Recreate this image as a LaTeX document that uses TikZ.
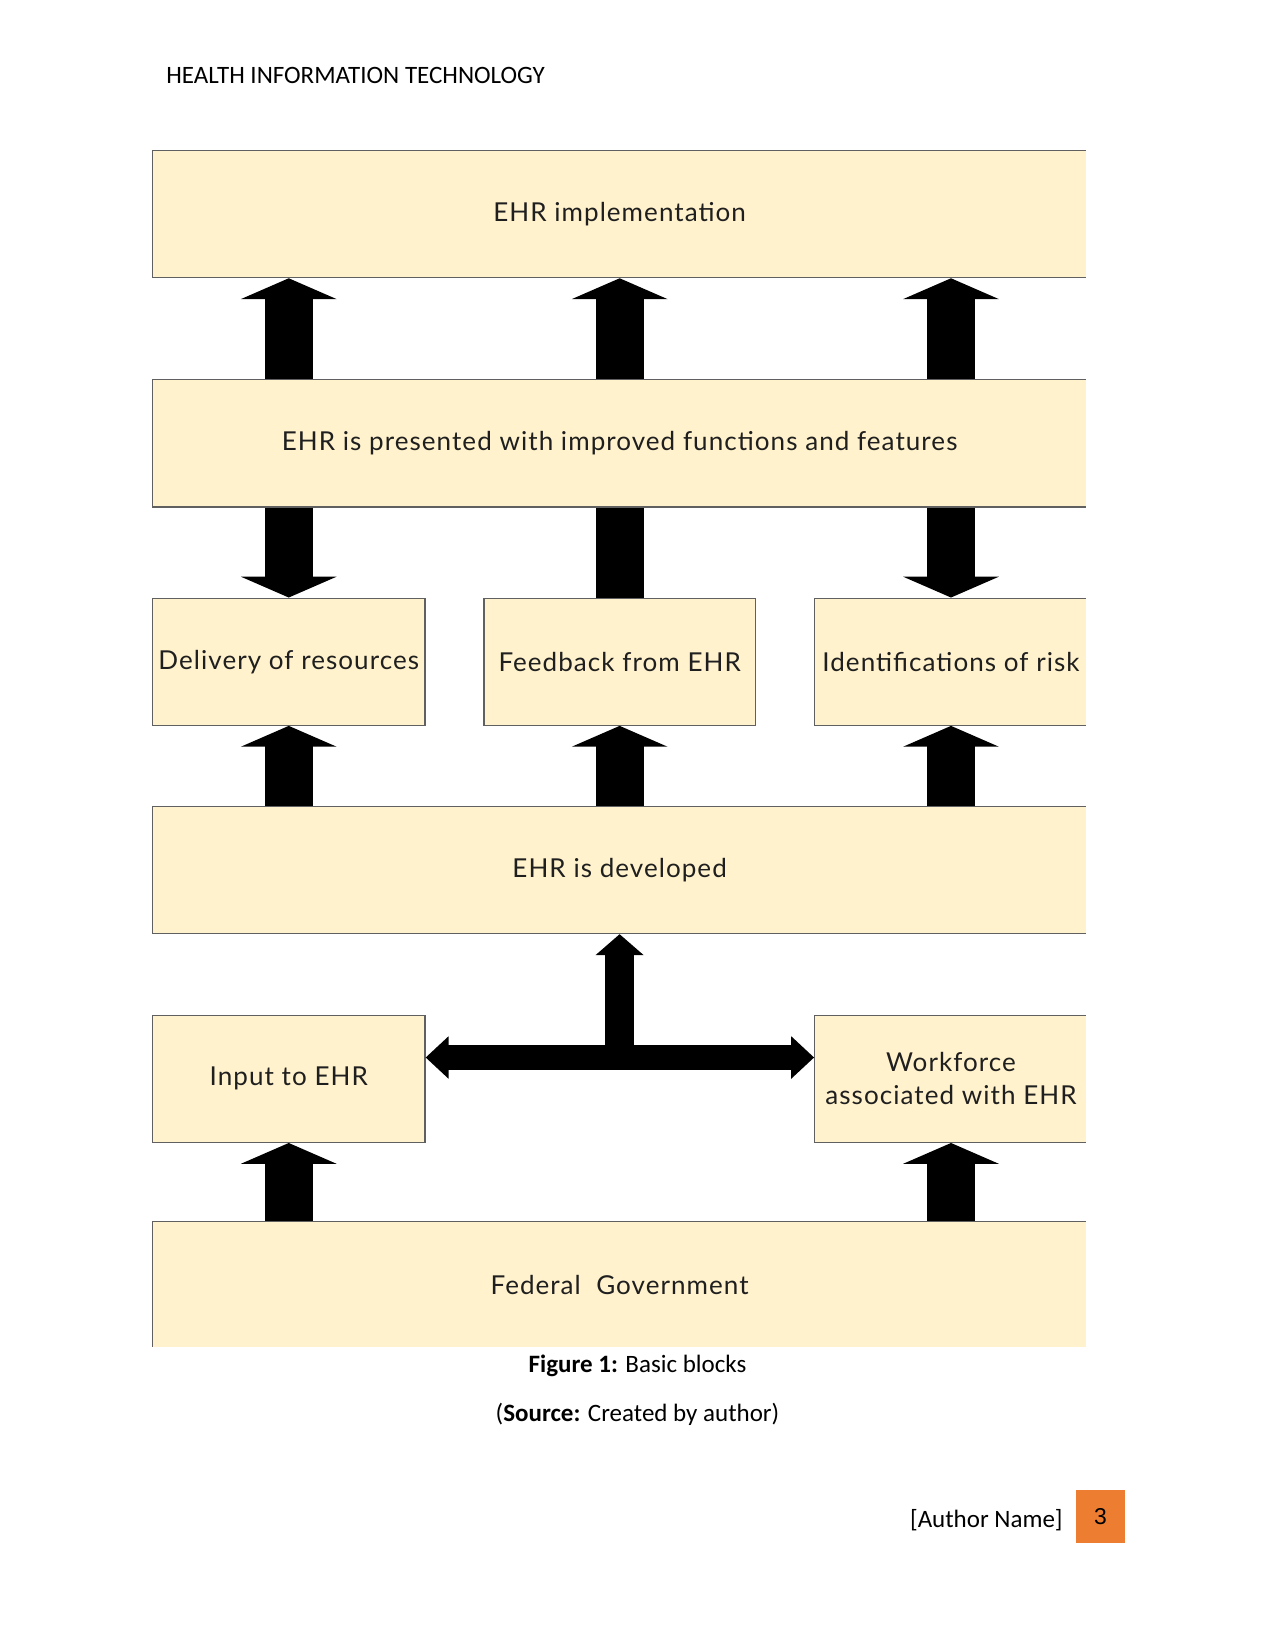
\documentclass[tikz,border=0pt]{standalone}
\usepackage{fontspec}
\setmainfont{Carlito}
\newfontfamily\boxfont[LetterSpace=4]{Lato}
\newfontfamily\numfont{Liberation Sans}
\usetikzlibrary{arrows.meta, positioning, calc}
\definecolor{boxYellow}{HTML}{FFF2CC}
\definecolor{pageOrange}{HTML}{ED7D31}

\begin{document}
\begin{tikzpicture}[
    x=0.48pt, y=-0.48pt,
    widebox/.style={draw=gray!75!black, line width=0.6pt, fill=boxYellow, minimum width=448.4pt, minimum height=61pt, inner sep=2pt, align=center, text=black!88, font=\boxfont\fontsize{12.5}{16}\selectfont},
    smallbox/.style={widebox, minimum width=130.8pt},
    bigarrow/.style={line width=23pt, -{Triangle[width=45.6pt, length=10pt]}},
    shaft/.style={line width=23pt},
    teearrow/.style={line width=13.8pt, -{Triangle[width=22.4pt, length=10pt]}},
    bararrow/.style={line width=12pt, {Triangle[width=19.7pt, length=11pt]}-{Triangle[width=19.7pt, length=11pt]}},
    pagetext/.style={inner sep=0pt, font=\fontsize{12}{14}\selectfont}
]
\useasboundingbox (0,0) rectangle (1275,1650);

% Page header
\node[pagetext, anchor=base west] (header) at (166, 84) {HEALTH INFORMATION TECHNOLOGY};

\begin{scope}
\clip (140,140) rectangle (1085.9,1346.9);

% Blocks
\node[widebox] (impl) at (619.6, 214.1) {EHR implementation};
\node[widebox] (present) at (619.6, 443.4) {EHR is presented with improved functions and features};

\node[smallbox] (deliv) at (288.75, 661.7) {Delivery of resources};
\node[smallbox, minimum width=130.2pt] (feed) at (619.65, 661.7) {Feedback from EHR};
\node[smallbox] (risk) at (951, 661.7) {Identifications of risk};

\node[widebox] (dev) at (619.6, 870) {EHR is developed};

\node[smallbox] (input) at (288.75, 1078.8) {Input to EHR};
\node[smallbox] (work) at (951, 1078.8) {Workforce\\associated with EHR};

\node[widebox] (fed) at (619.6, 1285) {Federal~ Government};
\end{scope}

% Arrows
\foreach \c in {deliv, feed, risk}
    \draw[bigarrow] (present.north -| \c) -- (impl.south -| \c);
\draw[bigarrow] (present.south -| deliv) -- (deliv.north);
\draw[shaft] (present.south -| feed) -- (feed.north);
\draw[bigarrow] (present.south -| risk) -- (risk.north);
\foreach \c in {deliv, feed, risk}
    \draw[bigarrow] (dev.north -| \c) -- (\c.south);

\coordinate (tee) at (619.6, 1057.5);
\draw[teearrow] (tee) -- (dev.south -| tee);
\draw[bararrow] (input.east |- tee) -- (work.west |- tee);

\foreach \c in {input, work}
    \draw[bigarrow] (fed.north -| \c) -- (\c.south);

% Caption
\node[pagetext, anchor=base] (caption) at (637.5, 1372.7) {\textbf{Figure 1:} Basic blocks};
\node[pagetext, anchor=base] (source) at (637.5, 1421.7) {(\textbf{Source:} Created by author)};

% Footer
\node[pagetext, anchor=base east] (author) at (1063, 1527) {[Author Name]};
\node[fill=pageOrange, minimum width=23.5pt, minimum height=25.4pt, inner sep=0pt, font=\numfont\fontsize{11}{13}\selectfont] (pagenum) at (1100.5, 1516.5) {3};
\end{tikzpicture}
\end{document}
